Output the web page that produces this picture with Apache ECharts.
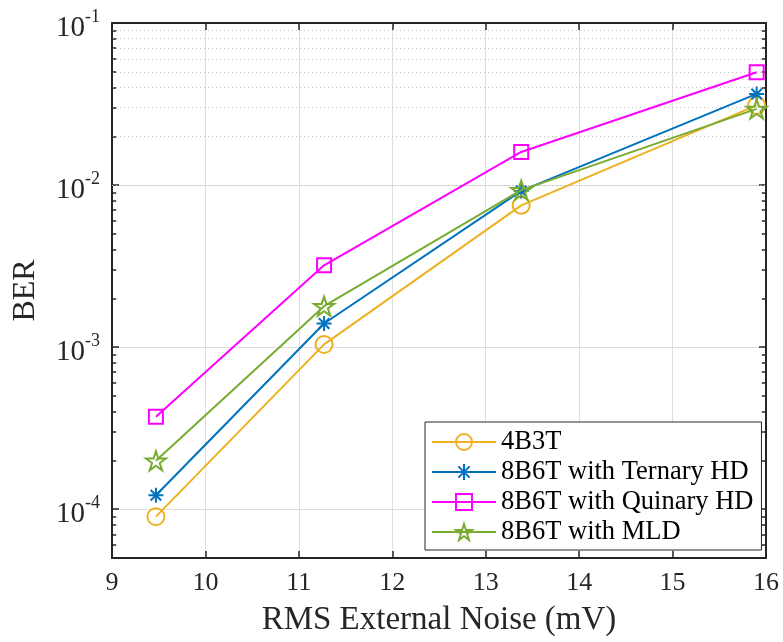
<!DOCTYPE html>
<html>
<head>
<meta charset="utf-8">
<script src="https://cdn.jsdelivr.net/npm/echarts@6/dist/echarts.min.js"></script>
<style>html,body{margin:0;padding:0;background:#fff;}#c{width:783px;height:642px;}</style>
</head>
<body>
<div id="c"></div>
<script>
// ---- data ----
const noise = [9.47, 11.27, 13.38, 15.9];
const ber4B3T = [9.0e-5, 1.04e-3, 7.5e-3, 3.1e-2];
const berTernary = [1.22e-4, 1.40e-3, 9.2e-3, 3.65e-2];
const berQuinary = [3.72e-4, 3.2e-3, 1.6e-2, 4.97e-2];
const berMLD = [1.99e-4, 1.79e-3, 9.3e-3, 2.95e-2];
const seriesNames = ['4B3T', '8B6T with Ternary HD', '8B6T with Quinary HD', '8B6T with MLD'];
const xTicks = [9, 10, 11, 12, 13, 14, 15, 16];
const yMajorTicks = [1e-4, 1e-3, 1e-2, 1e-1];
const yMinorTicks = [6e-5, 7e-5, 8e-5, 9e-5,
  2e-4, 3e-4, 4e-4, 5e-4, 6e-4, 7e-4, 8e-4, 9e-4,
  2e-3, 3e-3, 4e-3, 5e-3, 6e-3, 7e-3, 8e-3, 9e-3,
  2e-2, 3e-2, 4e-2, 5e-2, 6e-2, 7e-2, 8e-2, 9e-2];

const FONT = 'Liberation Serif';
const AX = '#262626';
const colors = ['#EDB120', '#0072BD', '#FF00FF', '#77AC30'];
const asteriskPath = 'path://M0,-10L0,10M-10,0L10,0M-7,-7L7,7M-7,7L7,-7';
const starPath = 'path://M0,-10L2.245,-3.09L9.51,-3.09L3.633,1.18L5.88,8.09L0,3.82L-5.88,8.09L-3.633,1.18L-9.51,-3.09L-2.245,-3.09Z';
const symbols = ['circle', asteriskPath, 'rect', starPath];
const sizes = [17, 15, 14, 20];
const values = [ber4B3T, berTernary, berQuinary, berMLD];

function pairs(ys) { return noise.map((x, i) => [x, ys[i]]); }

const xMin = xTicks[0], xMax = xTicks[xTicks.length - 1];
const yMin = 5e-5, yMax = yMajorTicks[yMajorTicks.length - 1];
const minorLen = 0.045;

const dataSeries = values.map((ys, i) => ({
  name: seriesNames[i],
  type: 'line',
  xAxisIndex: 0, yAxisIndex: 0,
  data: pairs(ys),
  symbol: symbols[i],
  symbolSize: sizes[i],
  symbolKeepAspect: true,
  showAllSymbol: true,
  lineStyle: { color: colors[i], width: 2 },
  itemStyle: { color: 'rgba(255,255,255,0)', borderColor: colors[i], borderWidth: 2 },
  emphasis: { disabled: true },
  z: 5 + i
}));

const minorGrid = {
  name: '_minorGrid', type: 'line', data: [], xAxisIndex: 0, yAxisIndex: 0, silent: true, z: 1,
  markLine: {
    silent: true, symbol: ['none', 'none'], label: { show: false }, animation: false,
    lineStyle: { type: [1, 3], color: '#c4c4c4', width: 1 },
    emphasis: { disabled: true },
    data: yMinorTicks.map(v => ({ yAxis: v }))
  }
};
const minorTicks = {
  name: '_minorTicks', type: 'line', data: [], xAxisIndex: 0, yAxisIndex: 0, silent: true, z: 3,
  markLine: {
    silent: true, symbol: ['none', 'none'], label: { show: false }, animation: false,
    lineStyle: { type: 'solid', color: AX, width: 1.5 },
    emphasis: { disabled: true },
    data: [].concat(
      yMinorTicks.map(v => [{ coord: [xMin, v] }, { coord: [xMin + minorLen, v] }]),
      yMinorTicks.map(v => [{ coord: [xMax - minorLen, v] }, { coord: [xMax, v] }])
    )
  }
};

const chart = echarts.init(document.getElementById('c'), null, { renderer: 'canvas' });
chart.setOption({
  animation: false,
  backgroundColor: '#fff',
  grid: { left: 112, top: 23, right: 17, bottom: 84, containLabel: false },
  legend: {
    data: seriesNames,
    orient: 'vertical',
    left: 425, top: 422,
    backgroundColor: '#fff',
    borderColor: AX, borderWidth: 1,
    padding: [5, 8, 3, 6],
    itemWidth: 64, itemHeight: 20, itemGap: 0,
    textStyle: { fontFamily: FONT, fontSize: 26.5, color: '#000', lineHeight: 30 },
    selectedMode: false
  },
  xAxis: [{
    type: 'value', position: 'bottom', min: xMin, max: xMax, interval: 1,
    name: 'RMS External Noise (mV)', nameLocation: 'middle', nameGap: 46,
    nameTextStyle: { fontFamily: FONT, fontSize: 33, color: AX },
    axisLine: { show: true, onZero: false, lineStyle: { color: AX, width: 2 } },
    axisTick: { show: true, inside: true, length: 7, lineStyle: { color: AX, width: 1.5 } },
    axisLabel: { fontFamily: FONT, fontSize: 26, color: AX, margin: 12 },
    splitLine: { show: true, lineStyle: { color: '#dedede', width: 1 } }
  }, {
    type: 'value', position: 'top', min: xMin, max: xMax, interval: 1,
    axisLine: { show: true, onZero: false, lineStyle: { color: AX, width: 2 } },
    axisTick: { show: true, inside: true, length: 7, lineStyle: { color: AX, width: 1.5 } },
    axisLabel: { show: false },
    splitLine: { show: false }
  }],
  yAxis: [{
    type: 'log', logBase: 10, position: 'left', min: yMin, max: yMax,
    name: 'BER', nameLocation: 'middle', nameGap: 70, nameRotate: 90,
    nameTextStyle: { fontFamily: FONT, fontSize: 32, color: AX },
    axisLine: { show: true, onZero: false, lineStyle: { color: AX, width: 2 } },
    axisTick: { show: true, inside: true, length: 7, lineStyle: { color: AX, width: 1.5 } },
    axisLabel: {
      margin: 12, color: AX,
      formatter: function (v) {
        const l = Math.log10(v);
        const e = Math.round(l);
        if (Math.abs(l - e) > 0.01) return '';
        return '{b|10}{s|' + e + '}';
      },
      rich: {
        b: { fontFamily: FONT, fontSize: 29, lineHeight: 29, color: AX, padding: [10, 0, 0, 0] },
        s: { fontFamily: FONT, fontSize: 18, lineHeight: 29, color: AX, verticalAlign: 'top' }
      }
    },
    splitLine: { show: true, lineStyle: { color: '#dedede', width: 1 } }
  }, {
    type: 'log', logBase: 10, position: 'right', min: yMin, max: yMax,
    axisLine: { show: true, onZero: false, lineStyle: { color: AX, width: 2 } },
    axisTick: { show: true, inside: true, length: 7, lineStyle: { color: AX, width: 1.5 } },
    axisLabel: { show: false },
    splitLine: { show: false }
  }],
  series: [minorGrid, minorTicks].concat(dataSeries)
});
</script>
</body>
</html>
